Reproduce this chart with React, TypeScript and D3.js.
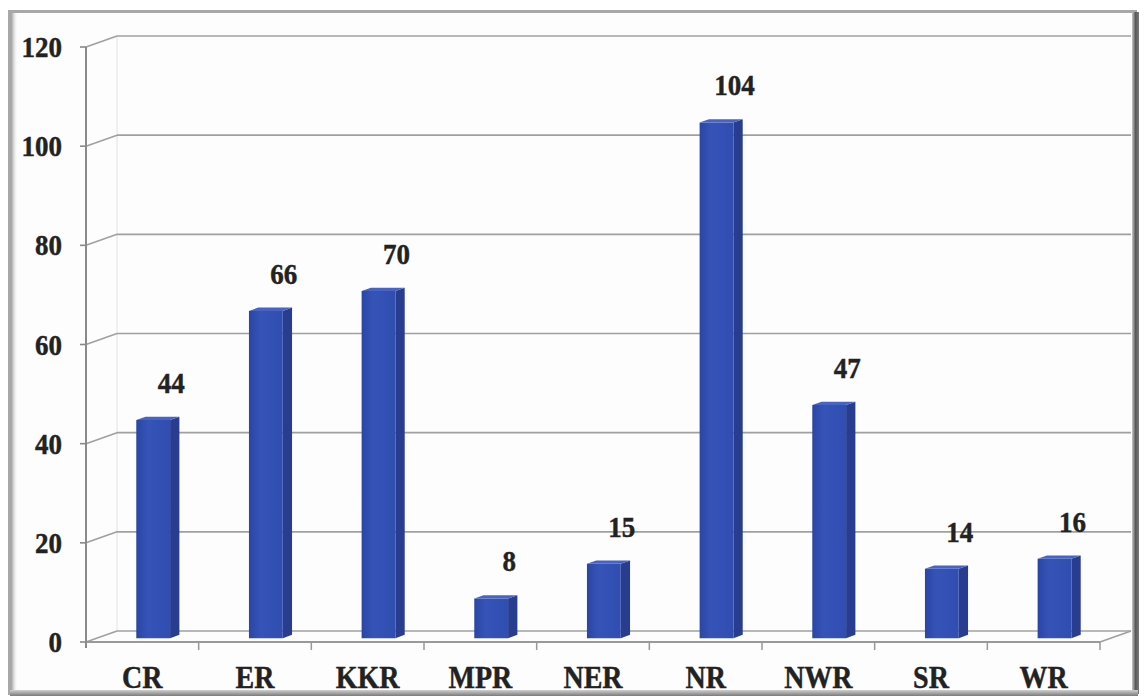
import React from "react";
import * as d3 from "d3";

const categories = ["CR", "ER", "KKR", "MPR", "NER", "NR", "NWR", "SR", "WR"];
const values = [44, 66, 70, 8, 15, 104, 47, 14, 16];
const yTicks = [0, 20, 40, 60, 80, 100, 120];

const W = 1145;
const H = 699;
const X0 = 86;
const X1 = 1100;
const DX = 31;
const DY = -11;
const F1 = 0.35;
const F2 = 0.65;

const font = "'Liberation Serif', 'Times New Roman', serif";

function Label(props: { x: number; y: number; anchor: string; size: number; children: React.ReactNode }) {
  const { x, y, anchor, size, children } = props;
  return (
    <text
      transform={`translate(${x},${y}) scale(1,1.1)`}
      textAnchor={anchor}
      fontFamily={font}
      fontWeight="bold"
      fontSize={size}
      fill="#222"
      stroke="#222"
      strokeWidth={0.4}
    >
      {children}
    </text>
  );
}

export default function App() {
  const x = d3.scaleBand<string>().domain(categories).range([X0, X1]).padding(0);
  const y = d3.scaleLinear().domain([0, 120]).range([642, 47]);
  const bw = x.bandwidth();
  const barW = bw * 0.3;
  const P = (px: number, v: number, f: number): [number, number] => [px + DX * f, y(v) + DY * f];
  const poly = (pts: [number, number][]) => pts.map((p) => p.join(",")).join(" ");

  return (
    <svg width={W} height={H} style={{ position: "absolute", left: 0, top: 0, background: "#fff" }}>
      <defs>
        <linearGradient id="front" x1="0" x2="1" y1="0" y2="0">
          <stop offset="0" stopColor="#2a45a4" />
          <stop offset="0.35" stopColor="#3654b8" />
          <stop offset="1" stopColor="#304db0" />
        </linearGradient>
        <linearGradient id="leftShade" x1="0" x2="1" y1="0" y2="0">
          <stop offset="0" stopColor="#9a9a9a" />
          <stop offset="1" stopColor="#ffffff" stopOpacity="0" />
        </linearGradient>
        <linearGradient id="rightShade" x1="0" x2="1" y1="0" y2="0">
          <stop offset="0" stopColor="#c8c8c8" />
          <stop offset="0.5" stopColor="#5a5a5a" />
          <stop offset="1" stopColor="#7a7a7a" />
        </linearGradient>
        <linearGradient id="bottomShade" x1="0" x2="0" y1="0" y2="1">
          <stop offset="0" stopColor="#d0d0d0" />
          <stop offset="1" stopColor="#7a7a7a" />
        </linearGradient>
      </defs>
      <rect x={0} y={0} width={W} height={H} fill="#fff" />
      {/* frame */}
      <rect x={12} y={13} width={1122} height={678} fill="#fdfdfd" />
      <rect x={9.5} y={11.5} width={1126} height={682} fill="none" stroke="#a8a8a8" strokeWidth={3} />
      <rect x={11} y={13} width={7} height={678} fill="url(#leftShade)" />
      <rect x={1132} y={12} width={7} height={682} fill="url(#rightShade)" />
      <rect x={10} y={690} width={1128} height={6} fill="url(#bottomShade)" />

      {/* back wall left edge */}
      <line x1={X0 + DX} x2={X0 + DX} y1={y(120) + DY} y2={y(0) + DY} stroke="#e2e2e2" strokeWidth={1} />

      {/* gridlines */}
      {yTicks.map((t) => (
        <g key={t}>
          <line x1={X0 + DX} x2={X1 + DX} y1={y(t) + DY} y2={y(t) + DY} stroke="#a0a0a0" strokeWidth={1.6} />
          <line x1={X0} x2={X0 + DX} y1={y(t)} y2={y(t) + DY} stroke="#a0a0a0" strokeWidth={1.6} />
          <line x1={X0 - 6} x2={X0} y1={y(t)} y2={y(t)} stroke="#888" strokeWidth={1.6} />
          <Label x={62} y={y(t) + 10} anchor="end" size={27}>
            {t}
          </Label>
        </g>
      ))}

      {/* floor */}
      <line x1={X0} x2={X1} y1={y(0)} y2={y(0)} stroke="#999" strokeWidth={1.8} />
      <line x1={X1} x2={X1 + DX} y1={y(0)} y2={y(0) + DY} stroke="#a0a0a0" strokeWidth={1.6} />
      {/* front vertical axis */}
      <line x1={X0} x2={X0} y1={y(120)} y2={y(0) + 6} stroke="#8a8a8a" strokeWidth={2} />
      {categories.map((c, i) => (
        <line key={"t" + c} x1={X0 + (i + 1) * bw} x2={X0 + (i + 1) * bw} y1={y(0)} y2={y(0) + 8} stroke="#999" strokeWidth={1.5} />
      ))}

      {/* bars */}
      {categories.map((c, i) => {
        const v = values[i];
        const cx = (x(c) as number) + bw / 2;
        const xl = cx - barW / 2;
        const xr = cx + barW / 2;
        const front = [P(xl, 0, F1), P(xr, 0, F1), P(xr, v, F1), P(xl, v, F1)];
        const side = [P(xr, 0, F1), P(xr, 0, F2), P(xr, v, F2), P(xr, v, F1)];
        const top = [P(xl, v, F1), P(xr, v, F1), P(xr, v, F2), P(xl, v, F2)];
        const [tx, ty] = P(cx, v, F1);
        return (
          <g key={c}>
            <polygon points={poly(side)} fill="#283c90" />
            <polygon points={poly(front)} fill="url(#front)" />
            <polygon points={poly(top)} fill="#4763c4" />
            <Label x={tx + 18} y={ty - 27} anchor="middle" size={27}>
              {v}
            </Label>
          </g>
        );
      })}

      {/* category labels */}
      {categories.map((c) => (
        <Label key={"l" + c} x={(x(c) as number) + bw / 2} y={688} anchor="middle" size={28}>
          {c}
        </Label>
      ))}
    </svg>
  );
}
